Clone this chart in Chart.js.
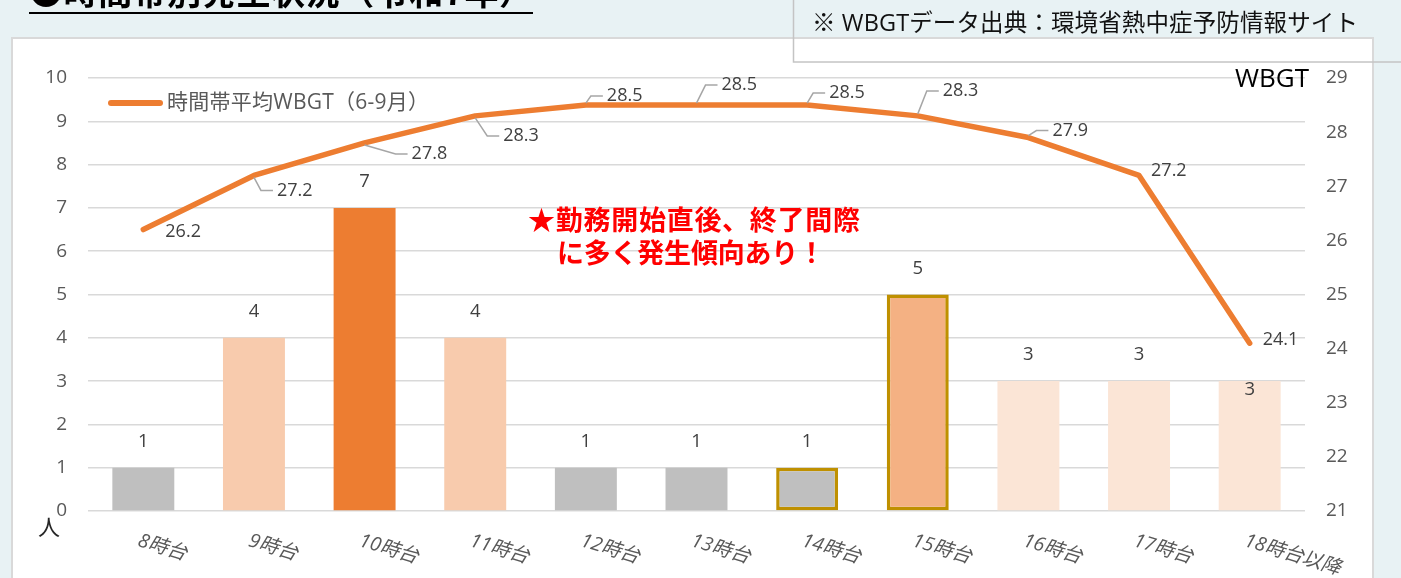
<!DOCTYPE html>
<html><head><meta charset="utf-8">
<script src="https://cdn.jsdelivr.net/npm/chart.js@4.4.0/dist/chart.umd.min.js"></script>
<style>
html,body{margin:0;padding:0;width:1401px;height:578px;overflow:hidden;background:#E8F2F4;}
#c{position:absolute;left:0;top:0;}
</style></head><body>
<canvas id="c" width="1401" height="578"></canvas>
<script>
// ---- data ----
const categories = ['8時台','9時台','10時台','11時台','12時台','13時台','14時台','15時台','16時台','17時台','18時台以降'];
const cases = [1,4,7,4,1,1,1,5,3,3,3];
const wbgt = [26.2,27.2,27.8,28.3,28.5,28.5,28.5,28.3,27.9,27.2,24.1];
const countTicks = [0,1,2,3,4,5,6,7,8,9,10];
const wbgtTicks = [21,22,23,24,25,26,27,28,29];
const titleText = '●時間帯別発生状況（令和7年）';
const sourceText = '※ WBGTデータ出典：環境省熱中症予防情報サイト';
const lineLegend = '時間帯平均WBGT（6-9月）';
const noteLines = ['★勤務開始直後、終了間際','に多く発生傾向あり！'];

// ---- styles ----
const GRAY='#BFBFBF', LIGHT='#F8CBAD', DARK='#ED7D31', MID='#F4B183', PALE='#FBE5D6', GOLD='#BF9000';
const NONE='rgba(0,0,0,0)';
const barColors = [GRAY,LIGHT,DARK,LIGHT,GRAY,GRAY,GRAY,MID,PALE,PALE,PALE];
const barBorderColors = [NONE,NONE,NONE,NONE,NONE,NONE,GOLD,GOLD,NONE,NONE,NONE];
const barBorderWidths = [0,0,0,0,0,0,3.5,3.5,0,0,0];
const barLabelInside = [false,false,false,false,false,false,false,false,false,false,true];
// label placement relative to point: [dx to text left, dy to text middle, leader]
const lineLabelPos = [[22,2.5,0],[23,15,1],[47,11,1],[28,20,1],[21,-9,1],[25,-20,1],[22,-12,1],[25,-25,1],[24,-7,1],[12,-5,0],[13,-3,0]];
const LAT = '"Open Sans","Noto Sans CJK JP",sans-serif';
const JP = '"Noto Sans CJK JP","Open Sans",sans-serif';

function fitText(ctx, text, left, y, width){
  ctx.letterSpacing = '0px';
  const w = ctx.measureText(text).width;
  const n = [...text].length;
  const sp = (width - w) / Math.max(n-1,1);
  ctx.letterSpacing = sp.toFixed(2) + 'px';
  ctx.textAlign = 'left';
  ctx.fillText(text, left, y);
  ctx.letterSpacing = '0px';
}

const deco = {
  id:'deco',
  beforeDraw(chart){
    const ctx = chart.ctx;
    ctx.save();
    ctx.fillStyle = '#E8F2F4'; ctx.fillRect(0,0,1401,578);
    ctx.fillStyle = '#FFFFFF'; ctx.fillRect(12,38,1361,560);
    ctx.strokeStyle = '#D9D9D9'; ctx.lineWidth = 2; ctx.strokeRect(12,38,1361,560);
    // source box
    ctx.strokeStyle = '#C4C4C4'; ctx.lineWidth = 1.5; ctx.strokeRect(793.5,-10,700,72);
    ctx.fillStyle = '#111'; ctx.font = '23.5px ' + LAT; ctx.textBaseline = 'alphabetic';
    fitText(ctx, sourceText, 812, 31, 546);
    // title (cut off at top)
    ctx.fillStyle = '#000'; ctx.font = 'bold 34px ' + JP;
    fitText(ctx, titleText, 29, 5, 504);
    ctx.fillRect(29,12,504,2);
    ctx.restore();
  },
  afterDatasetsDraw(chart){
    const ctx = chart.ctx;
    ctx.save();
    // bar labels
    const bm = chart.getDatasetMeta(0);
    ctx.font = '18.5px ' + LAT; ctx.fillStyle = '#404040'; ctx.textAlign = 'center'; ctx.textBaseline = 'middle';
    bm.data.forEach((el,i)=>{
      const y = barLabelInside[i] ? el.y + 9 : el.y - 26;
      ctx.fillText(String(cases[i]), el.x, y);
    });
    // line labels with leaders
    const lm = chart.getDatasetMeta(1);
    ctx.font = '18px ' + LAT; ctx.textAlign = 'left';
    lm.data.forEach((pt,i)=>{
      const [dx,dy,lead] = lineLabelPos[i];
      const tx = pt.x + dx, ty = pt.y + dy;
      if (lead){
        ctx.strokeStyle = '#A6A6A6'; ctx.lineWidth = 1.5;
        ctx.beginPath();
        ctx.moveTo(pt.x, pt.y + (dy>0?2:-2));
        ctx.lineTo(tx - 16, ty);
        ctx.lineTo(tx - 4, ty);
        ctx.stroke();
      }
      ctx.fillStyle = '#404040';
      ctx.fillText(wbgt[i].toFixed(1), tx, ty);
    });
    ctx.restore();
  },
  afterDraw(chart){
    const ctx = chart.ctx;
    ctx.save();
    // x labels rotated clockwise, italic
    const xs = chart.scales.x;
    ctx.font = 'italic 19.5px ' + LAT; ctx.fillStyle = '#595959'; ctx.textAlign='left'; ctx.textBaseline='top';
    categories.forEach((lab,i)=>{
      const x = xs.getPixelForTick(i);
      ctx.save(); ctx.translate(x-2, 531); ctx.rotate(17*Math.PI/180);
      ctx.fillText(lab, 0, 0); ctx.restore();
    });
    // legend
    ctx.strokeStyle = DARK; ctx.lineWidth = 6; ctx.lineCap = 'round';
    ctx.beginPath(); ctx.moveTo(111,103); ctx.lineTo(160,103); ctx.stroke();
    ctx.fillStyle = '#595959'; ctx.font = '21px ' + LAT; ctx.textBaseline = 'middle';
    fitText(ctx, lineLegend, 167, 103, 262);
    // axis titles
    ctx.fillStyle = '#000'; ctx.font = '26px ' + LAT; ctx.textBaseline = 'alphabetic'; ctx.textAlign = 'left';
    ctx.fillText('WBGT', 1235, 87);
    ctx.fillStyle = '#262626'; ctx.font = '22px ' + JP; ctx.textBaseline = 'middle'; ctx.textAlign = 'center';
    ctx.fillText('人', 49, 527);
    // note
    ctx.fillStyle = '#FF0000'; ctx.font = 'bold 27px ' + JP; ctx.textBaseline = 'middle';
    fitText(ctx, noteLines[0], 528, 220, 332);
    fitText(ctx, noteLines[1], 557, 253, 268);
    ctx.restore();
  }
};

new Chart(document.getElementById('c'), {
  data: {
    labels: categories,
    datasets: [
      {type:'bar', data:cases, yAxisID:'y', order:2, backgroundColor:barColors, borderColor:barBorderColors,
       borderWidth:barBorderWidths, borderSkipped:false, categoryPercentage:1, barPercentage:0.56},
      {type:'line', data:wbgt, yAxisID:'y2', order:1, borderColor:DARK, borderWidth:5.5, pointRadius:0,
       tension:0, borderCapStyle:'round', borderJoinStyle:'round', fill:false}
    ]
  },
  options: {
    responsive:false, animation:false, devicePixelRatio:1,
    layout:{padding:{top:78,left:0,right:0,bottom:0}},
    plugins:{legend:{display:false}, tooltip:{enabled:false}},
    scales:{
      x:{type:'category', grid:{display:false}, border:{display:false}, ticks:{display:false},
         afterFit(s){ s.height = 67; }},
      y:{position:'left', min:countTicks[0], max:countTicks[countTicks.length-1],
         ticks:{stepSize:1, color:'#595959', font:{family:LAT,size:19}, padding:21, autoSkip:false},
         grid:{color:'#D9D9D9', lineWidth:1.5, drawTicks:false}, border:{display:false},
         afterFit(s){ s.width = 88; }},
      y2:{position:'right', min:wbgtTicks[0], max:wbgtTicks[wbgtTicks.length-1],
         ticks:{stepSize:1, color:'#595959', font:{family:LAT,size:19}, padding:21, autoSkip:false},
         grid:{display:false, drawTicks:false}, border:{display:false},
         afterFit(s){ s.width = 96; }}
    }
  },
  plugins:[deco]
});
</script>
</body></html>
